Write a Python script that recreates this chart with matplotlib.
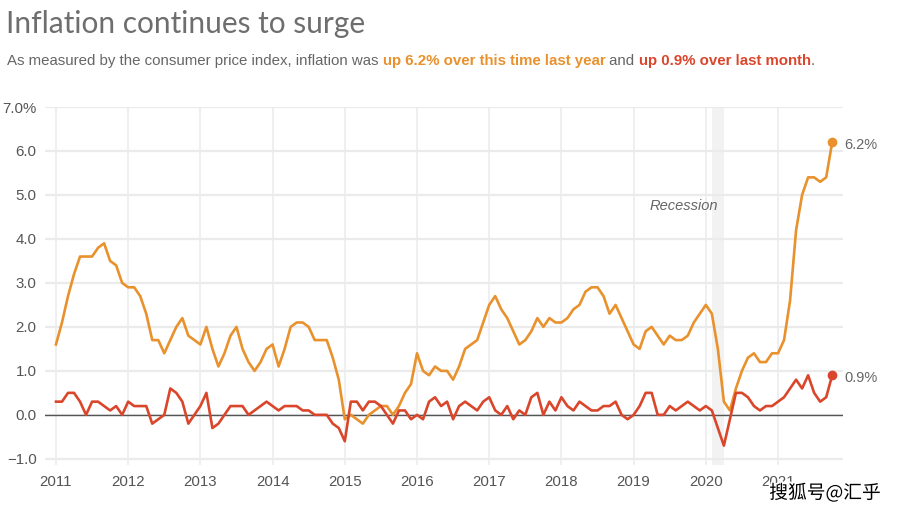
import numpy as np
import matplotlib.pyplot as plt
from matplotlib import patheffects

# Data -------------------------------------------------------------
# year-over-year CPI change, Jan 2011 .. Oct 2021 (%)
yearly = [
    1.6, 2.1, 2.7, 3.2, 3.6, 3.6, 3.6, 3.8, 3.9, 3.5, 3.4, 3.0,   # 2011
    2.9, 2.9, 2.7, 2.3, 1.7, 1.7, 1.4, 1.7, 2.0, 2.2, 1.8, 1.7,   # 2012
    1.6, 2.0, 1.5, 1.1, 1.4, 1.8, 2.0, 1.5, 1.2, 1.0, 1.2, 1.5,   # 2013
    1.6, 1.1, 1.5, 2.0, 2.1, 2.1, 2.0, 1.7, 1.7, 1.7, 1.3, 0.8,   # 2014
    -0.1, 0.0, -0.1, -0.2, 0.0, 0.1, 0.2, 0.2, 0.0, 0.2, 0.5, 0.7,  # 2015
    1.4, 1.0, 0.9, 1.1, 1.0, 1.0, 0.8, 1.1, 1.5, 1.6, 1.7, 2.1,   # 2016
    2.5, 2.7, 2.4, 2.2, 1.9, 1.6, 1.7, 1.9, 2.2, 2.0, 2.2, 2.1,   # 2017
    2.1, 2.2, 2.4, 2.5, 2.8, 2.9, 2.9, 2.7, 2.3, 2.5, 2.2, 1.9,   # 2018
    1.6, 1.5, 1.9, 2.0, 1.8, 1.6, 1.8, 1.7, 1.7, 1.8, 2.1, 2.3,   # 2019
    2.5, 2.3, 1.5, 0.3, 0.1, 0.6, 1.0, 1.3, 1.4, 1.2, 1.2, 1.4,   # 2020
    1.4, 1.7, 2.6, 4.2, 5.0, 5.4, 5.4, 5.3, 5.4, 6.2,             # 2021
]

# month-over-month change (%)
monthly = [
    0.3, 0.3, 0.5, 0.5, 0.3, 0.0, 0.3, 0.3, 0.2, 0.1, 0.2, 0.0,
    0.3, 0.2, 0.2, 0.2, -0.2, -0.1, 0.0, 0.6, 0.5, 0.3, -0.2, 0.0,
    0.2, 0.5, -0.3, -0.2, 0.0, 0.2, 0.2, 0.2, 0.0, 0.1, 0.2, 0.3,
    0.2, 0.1, 0.2, 0.2, 0.2, 0.1, 0.1, 0.0, 0.0, 0.0, -0.2, -0.3,
    -0.6, 0.3, 0.3, 0.1, 0.3, 0.3, 0.2, 0.0, -0.2, 0.1, 0.1, -0.1,
    0.0, -0.1, 0.3, 0.4, 0.2, 0.3, -0.1, 0.2, 0.3, 0.2, 0.1, 0.3,
    0.4, 0.1, 0.0, 0.2, -0.1, 0.1, 0.0, 0.4, 0.5, 0.0, 0.3, 0.1,
    0.4, 0.2, 0.1, 0.3, 0.2, 0.1, 0.1, 0.2, 0.2, 0.3, 0.0, -0.1,
    0.0, 0.2, 0.5, 0.5, 0.0, 0.0, 0.2, 0.1, 0.2, 0.3, 0.2, 0.1,
    0.2, 0.1, -0.3, -0.7, -0.1, 0.5, 0.5, 0.4, 0.2, 0.1, 0.2, 0.2,
    0.3, 0.4, 0.6, 0.8, 0.6, 0.9, 0.5, 0.3, 0.4, 0.9,
]

years = list(range(2011, 2022))
y_ticks = [-1, 0, 1, 2, 3, 4, 5, 6, 7]
y_labels = ['\u22121.0', '0.0', '1.0', '2.0', '3.0', '4.0', '5.0', '6.0', '7.0%']
recession = (2020 + 1 / 12, 2020 + 3 / 12)

orange = '#E8912D'
red = '#DA462B'
gray = '#666666'

x = 2011 + np.arange(len(yearly)) / 12

# Figure -----------------------------------------------------------
fig = plt.figure(figsize=(9.03, 5.13), dpi=100)
ax = fig.add_axes([0.0498, 0.0936, 0.8838, 0.6978])

ax.axvspan(recession[0], recession[1], color='#F2F2F2', zorder=0, lw=0)
ax.axhline(0, color='#555555', lw=1.0, zorder=2)

ax.plot(x, yearly, color=orange, lw=1.9, zorder=3, solid_joinstyle='round')
ax.plot(x, monthly, color=red, lw=1.9, zorder=4, solid_joinstyle='round')
ax.plot(x[-1], yearly[-1], 'o', color=orange, ms=6, zorder=5)
ax.plot(x[-1], monthly[-1], 'o', color=red, ms=6, zorder=5)

ax.text(x[-1] + 0.17, yearly[-1] - 0.06, f'{yearly[-1]:.1f}%', color=gray,
        fontsize=10.5, va='center', ha='left', family='Liberation Sans')
ax.text(x[-1] + 0.17, monthly[-1] - 0.06, f'{monthly[-1]:.1f}%', color=gray,
        fontsize=10.5, va='center', ha='left', family='Liberation Sans')
ax.text(2019.70, 4.75, 'Recession', color=gray, fontsize=10.5,
        style='italic', ha='center', va='center', family='Liberation Sans')

ax.set_xlim(2011 - 11 / 72.2, 2011 + 787 / 72.2)
ax.set_ylim(-1.14, 7.0)
ax.set_xticks(years)
ax.set_xticklabels([str(y) for y in years])
ax.set_yticks(y_ticks)
ax.set_yticklabels(y_labels)
ax.tick_params(length=0, labelsize=10.8, labelcolor='#555555', pad=6)
ax.tick_params(axis='x', pad=7)
for lab in ax.get_xticklabels() + ax.get_yticklabels():
    lab.set_family('Liberation Sans')

ax.grid(axis='y', color='#EBEBEB', lw=1.6, zorder=0)
ax.grid(axis='x', color='#EBEBEB', lw=1.1, zorder=0)
ax.set_axisbelow(True)
for s in ax.spines.values():
    s.set_visible(False)

# Title and subtitle -----------------------------------------------
fig.text(6 / 903, 1 - 24 / 513, 'Inflation continues to surge', fontsize=21.5,
         color='#6E6E6E', va='center', ha='left', family='Lato')

parts = [('As measured by the consumer price index, inflation was ', gray, 'normal'),
         ('up 6.2% over this time last year', orange, 'bold'),
         (' and ', gray, 'normal'),
         ('up 0.9% over last month', red, 'bold'),
         ('.', gray, 'normal')]
fig.canvas.draw()
renderer = fig.canvas.get_renderer()
xpos = 7 / 903
for txt, col, w in parts:
    t = fig.text(xpos, 1 - 61 / 513, txt, fontsize=10.8, color=col, weight=w,
                 va='center', ha='left', family='Liberation Sans')
    bb = t.get_window_extent(renderer=renderer)
    xpos += bb.width / fig.bbox.width

# watermark
fig.text(825 / 903, 1 - 493 / 513, '搜狐号@汇乎', fontsize=13.5, color='black',
         ha='center', va='center', family=['Noto Sans CJK SC', 'DejaVu Sans'],
         path_effects=[patheffects.withStroke(linewidth=2.5, foreground='white')])

fig.savefig('out.png', dpi=100)
